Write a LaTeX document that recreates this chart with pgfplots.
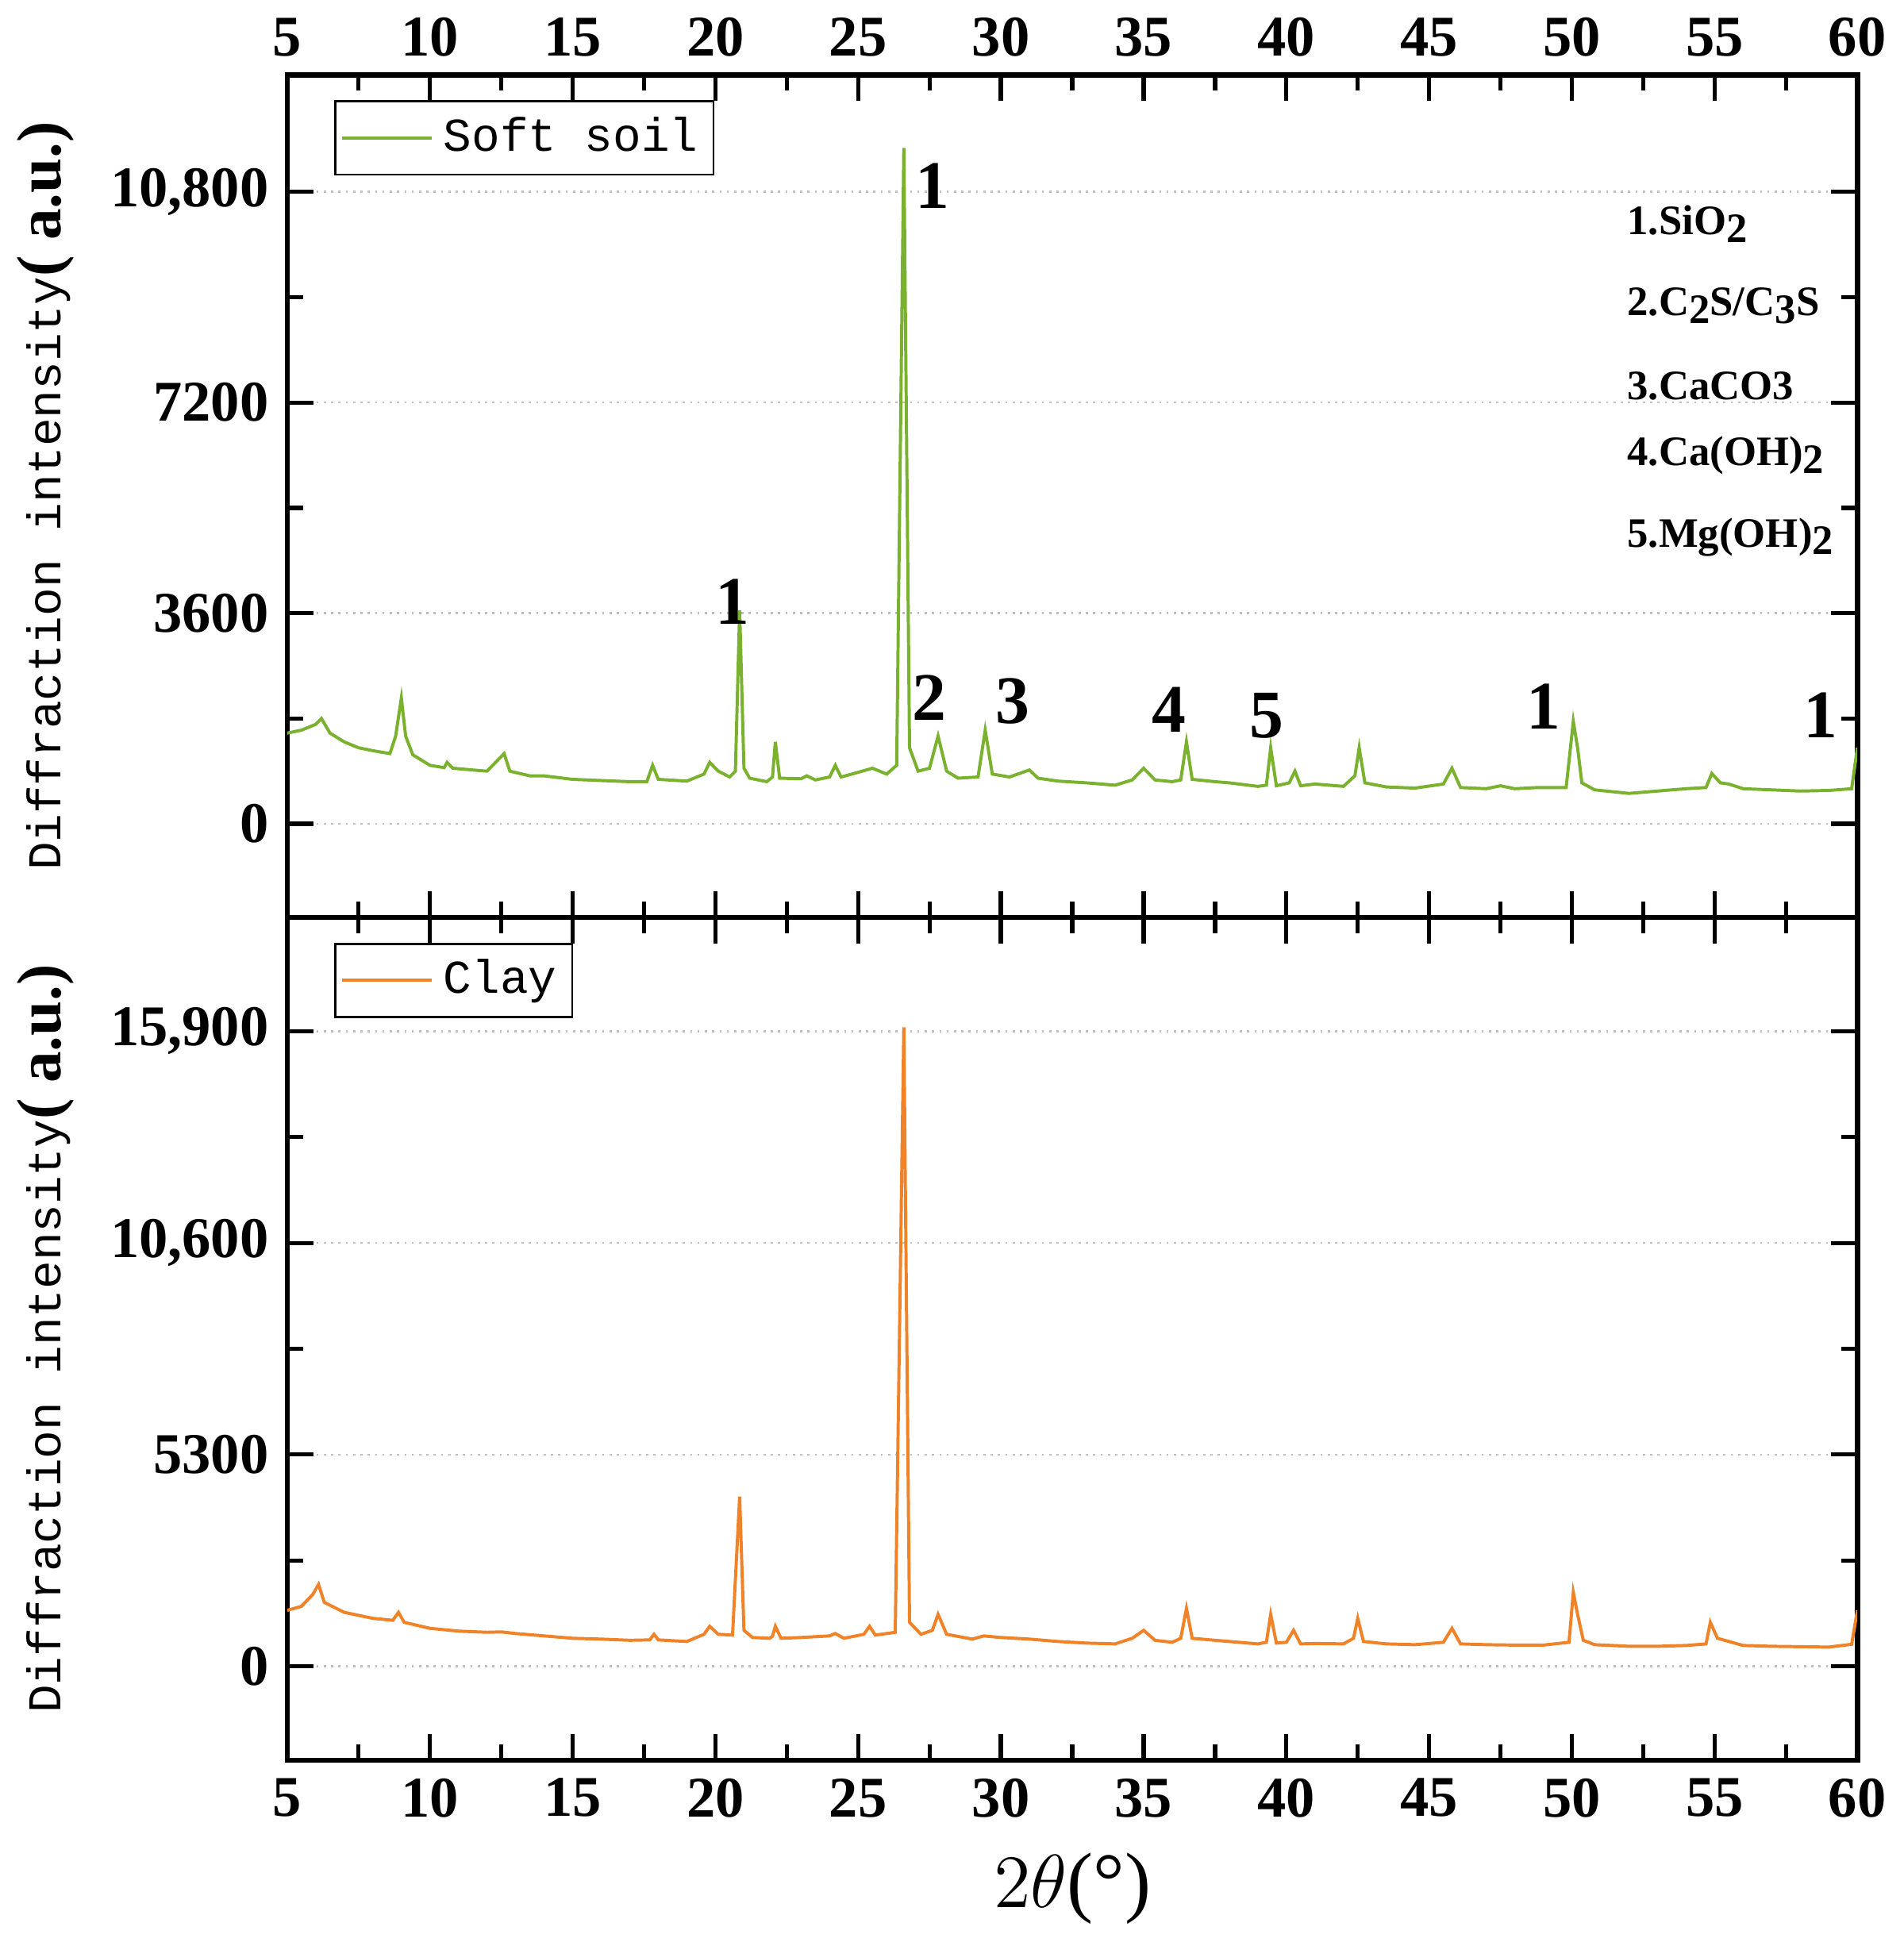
\documentclass[border=0pt]{standalone}
\usepackage{pgfplots}
\pgfplotsset{compat=1.18}
\usepackage{fontspec}
\setmainfont{Liberation Serif}
\newfontfamily\monof{Liberation Mono}
\definecolor{soft}{RGB}{122,178,48}
\definecolor{clay}{RGB}{240,130,40}
\begin{document}
\begin{tikzpicture}
\pgfplotsset{
  myax/.style={scale only axis, width=300pt, height=161pt,
    xmin=5, xmax=60, xtick={5,10,...,60}, minor x tick num=1,
    tick align=inside, major tick length=5pt, minor tick length=3pt,
    xtick pos=both, ytick pos=both, minor y tick num=1,
    ymajorgrids, major grid style={densely dotted, gray!50},
    axis line style={line width=1pt}, every tick/.style={line width=0.8pt, black},
    ticklabel style={font=\fontsize{11}{13}\selectfont\bfseries},
    /pgf/number format/assume math mode=true,
    ylabel style={font=\monof\fontsize{9}{11}\selectfont},
    ylabel={Diffraction intensity{\rmfamily\bfseries\fontsize{12}{13}\selectfont( a.u.)}},
    legend pos=north west, legend cell align=left,
    legend style={font=\monof\fontsize{9}{11}\selectfont, draw=black, inner sep=1pt},
    scaled y ticks=false,
  }
}
\begin{axis}[myax, name=top, at={(0,0)}, anchor=south west,
  ymin=-1600, ymax=12800, ytick={0,3600,7200,10800},
  yticklabels={0,3600,7200,{10,800}}, xticklabel pos=upper]
\addplot[soft, line width=0.6pt] coordinates {
(5,1550)(5.5,1600)(6,1700)(6.2,1800)(6.5,1550)(7,1400)(7.5,1300)(8,1250)(8.6,1200)(8.8,1500)(9,2150)(9.15,1500)(9.4,1180)(10,1000)(10.5,960)(10.6,1050)(10.8,950)(11.5,920)(12,900)(12.4,1100)(12.6,1200)(12.8,900)(13.5,820)(14,820)(15,760)(16,740)(17,720)(17.6,720)(17.8,1000)(18,760)(19,730)(19.6,850)(19.8,1050)(20.1,900)(20.5,800)(20.7,900)(20.85,3650)(21.0,950)(21.2,780)(21.8,720)(22.0,800)(22.1,1400)(22.25,780)(23,770)(23.2,820)(23.5,750)(24.0,800)(24.2,1000)(24.4,800)(25,880)(25.5,950)(26,850)(26.35,1000)(26.6,11550)(26.8,1300)(27.1,900)(27.5,950)(27.8,1500)(28.1,900)(28.5,780)(29.2,800)(29.45,1600)(29.7,850)(30.3,800)(31,920)(31.3,780)(32,730)(33,700)(34,660)(34.6,750)(35,950)(35.4,750)(36,720)(36.3,750)(36.5,1400)(36.7,760)(37.5,720)(38,700)(39,640)(39.3,660)(39.45,1300)(39.65,650)(40.1,700)(40.3,900)(40.5,650)(41,680)(42,640)(42.4,820)(42.55,1300)(42.75,700)(43.5,630)(44.5,610)(45.5,680)(45.8,950)(46.1,620)(47,600)(47.5,650)(48,600)(48.8,620)(49.8,620)(50.05,1750)(50.2,1300)(50.35,700)(50.8,580)(52,520)(53,560)(54,600)(54.7,620)(54.9,860)(55.2,700)(55.5,680)(56,600)(57,580)(58,560)(59,570)(59.8,600)(60,1300)
};
\legend{Soft soil}
\begin{scope}[every node/.style={font=\bfseries\fontsize{13}{14}\selectfont}]
\node at (axis cs:27.6,10900) {1};
\node at (axis cs:20.6,3800) {1};
\node at (axis cs:27.5,2150) {2};
\node at (axis cs:30.4,2100) {3};
\node at (axis cs:35.9,1950) {4};
\node at (axis cs:39.3,1850) {5};
\node at (axis cs:49.0,2000) {1};
\node at (axis cs:58.7,1850) {1};
\end{scope}
\begin{scope}[every node/.style={font=\bfseries\fontsize{8}{10}\selectfont, anchor=west}]
\node at (axis cs:51.3,10250) {1.SiO\raisebox{-0.4ex}{2}};
\node at (axis cs:51.3,8850) {2.C\raisebox{-0.4ex}{2}S/C\raisebox{-0.4ex}{3}S};
\node at (axis cs:51.3,7480) {3.CaCO3};
\node at (axis cs:51.3,6290) {4.Ca(OH)\raisebox{-0.4ex}{2}};
\node at (axis cs:51.3,4900) {5.Mg(OH)\raisebox{-0.4ex}{2}};
\end{scope}
\end{axis}
\begin{axis}[myax, at={(0,0)}, anchor=north west,
  ymin=-2350, ymax=18750, ytick={0,5300,10600,15900},
  yticklabels={0,5300,{10,600},{15,900}}, xticklabel pos=lower,
  xlabel={$2\theta$(°)}, xlabel style={font=\fontsize{15}{16}\selectfont}]
\addplot[clay, line width=0.6pt] coordinates {
(5,1400)(5.5,1500)(5.9,1800)(6.1,2050)(6.3,1600)(7,1350)(8,1200)(8.7,1150)(8.9,1350)(9.1,1100)(10,950)(11,880)(12,850)(12.5,860)(13,820)(14,760)(15,700)(16,680)(17,650)(17.7,660)(17.85,800)(18,660)(19,620)(19.6,800)(19.8,1000)(20.1,800)(20.6,780)(20.85,4250)(21.0,900)(21.3,720)(21.9,700)(22.0,750)(22.1,1000)(22.3,700)(23,720)(24,760)(24.2,820)(24.5,700)(25.2,800)(25.4,1000)(25.6,780)(26.3,850)(26.6,16000)(26.8,1100)(27.2,800)(27.6,900)(27.8,1300)(28.1,800)(29,680)(29.4,760)(30,720)(31,680)(32,620)(33,580)(34,560)(34.6,700)(35,900)(35.4,650)(36,600)(36.3,700)(36.5,1450)(36.7,700)(37.5,650)(38,620)(39,560)(39.3,600)(39.45,1300)(39.65,580)(40,600)(40.25,900)(40.5,560)(41,570)(42,560)(42.35,700)(42.5,1200)(42.7,620)(43.5,560)(44.5,540)(45.5,600)(45.8,950)(46.1,560)(47,540)(48,530)(49,530)(49.9,600)(50.05,1850)(50.2,1300)(50.4,650)(50.8,540)(52,500)(53,500)(54,520)(54.7,560)(54.85,1100)(55.1,700)(55.5,620)(56,520)(57,500)(58,490)(59,480)(59.8,550)(60,1400)
};
\legend{Clay}
\end{axis}
\end{tikzpicture}
\end{document}
